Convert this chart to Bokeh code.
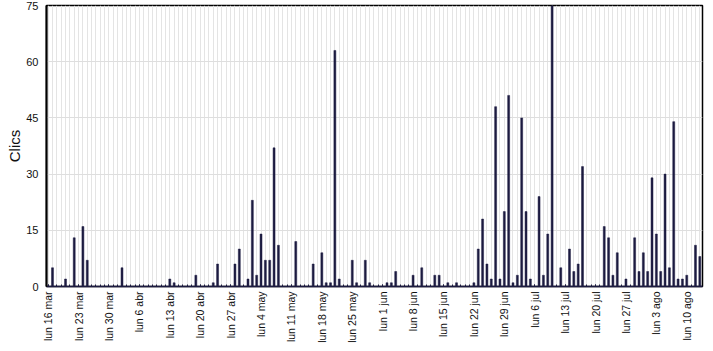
import math
from bokeh.plotting import figure
from bokeh.models import Range1d, FixedTicker, ColumnDataSource
from bokeh.embed import file_html
from bokeh.resources import INLINE

# Tick labels (Mondays), one every 7 days starting at day 0
etiquetas = ["lun 16 mar", "lun 23 mar", "lun 30 mar", "lun 6 abr", "lun 13 abr",
             "lun 20 abr", "lun 27 abr", "lun 4 may", "lun 11 may", "lun 18 may",
             "lun 25 may", "lun 1 jun", "lun 8 jun", "lun 15 jun", "lun 22 jun",
             "lun 29 jun", "lun 6 jul", "lun 13 jul", "lun 20 jul", "lun 27 jul",
             "lun 3 ago", "lun 10 ago"]

# Daily clicks, day 0 = lun 16 mar
clics = [0, 5, 0, 0, 2, 0, 13, 0, 16, 7,
         0, 0, 0, 0, 0, 0, 0, 5, 0, 0,
         0, 0, 0, 0, 0, 0, 0, 0, 2, 1,
         0, 0, 0, 0, 3, 0, 0, 0, 1, 6,
         0, 0, 0, 6, 10, 0, 2, 23, 3, 14,
         7, 7, 37, 11, 0, 0, 0, 12, 0, 0,
         0, 6, 0, 9, 1, 1, 63, 2, 0, 0,
         7, 1, 0, 7, 1, 0, 0, 0, 1, 1,
         4, 0, 0, 0, 3, 0, 5, 0, 0, 3,
         3, 0, 1, 0, 1, 0, 0, 0, 1, 10,
         18, 6, 2, 48, 2, 20, 51, 1, 3, 45,
         20, 2, 0, 24, 3, 14, 75, 0, 5, 0,
         10, 4, 6, 32, 0, 0, 0, 0, 16, 13,
         3, 9, 0, 2, 0, 13, 4, 9, 4, 29,
         14, 4, 30, 5, 44, 2, 2, 3, 0, 11,
         8]

y_ticks = [0, 15, 30, 45, 60, 75]

dias = list(range(len(clics)))
lunes = [7 * i for i in range(len(etiquetas))]

src = ColumnDataSource(dict(dia=dias, clics=clics))

p = figure(width=713, height=351, output_backend="svg", toolbar_location=None,
           x_range=Range1d(-0.38, len(clics) - 0.38), y_range=Range1d(0, 75),
           min_border_left=46, min_border_right=11, min_border_top=5, min_border_bottom=65)

p.background_fill_color = "white"
p.border_fill_color = "white"
p.outline_line_color = "black"
p.outline_line_width = 1.5

p.vbar(x="dia", top="clics", width=0.45, source=src,
       fill_color="#1c1b40", line_color="#1c1b40", line_width=0.5)

font = "Liberation Sans"

# x axis
xa = p.xaxis[0]
xa.ticker = FixedTicker(ticks=lunes, minor_ticks=dias)
xa.major_label_overrides = {d: t for d, t in zip(lunes, etiquetas)}
xa.major_label_orientation = math.pi / 2
xa.major_label_text_font = font
xa.major_label_text_font_size = "10.5px"
xa.major_label_text_color = "#111111"
xa.major_label_standoff = 5
xa.major_tick_in = 2
xa.major_tick_out = 0
xa.minor_tick_in = 2
xa.minor_tick_out = 0
xa.major_tick_line_color = "#1c1b40"
xa.minor_tick_line_color = "#1c1b40"
xa.axis_line_color = "#1c1b40"
xa.axis_line_width = 1.5

# y axis
ya = p.yaxis[0]
ya.ticker = FixedTicker(ticks=y_ticks)
ya.axis_label = "Clics"
ya.axis_label_text_font = font
ya.axis_label_text_font_size = "15px"
ya.axis_label_text_font_style = "normal"
ya.axis_label_text_color = "#111111"
ya.axis_label_standoff = 0
ya.major_label_text_font = font
ya.major_label_text_font_size = "11px"
ya.major_label_text_color = "#111111"
ya.major_label_standoff = 8
ya.major_tick_in = 0
ya.major_tick_out = 0
ya.minor_tick_in = 0
ya.minor_tick_out = 0
ya.axis_line_color = "black"
ya.axis_line_width = 2

# grids
p.xgrid.ticker = FixedTicker(ticks=dias)
p.xgrid.grid_line_color = "#e4e4e4"
p.xgrid.grid_line_width = 1
p.ygrid.grid_line_color = "#dedede"
p.ygrid.grid_line_width = 1

open("out.html", "w").write(file_html(p, INLINE))
